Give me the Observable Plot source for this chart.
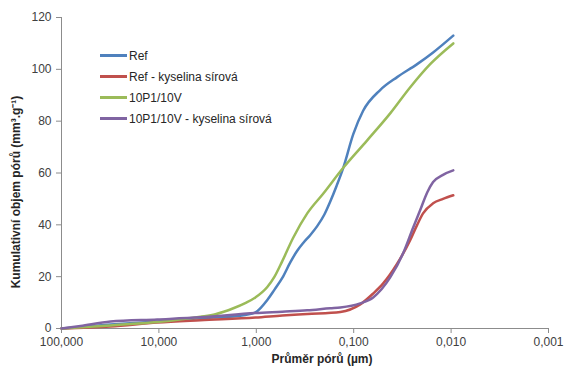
<!DOCTYPE html>
<html>
<head>
<meta charset="utf-8">
<script src="https://cdn.jsdelivr.net/npm/d3@7"></script>
<script src="https://cdn.jsdelivr.net/npm/@observablehq/plot@0.6"></script>
<style>
  body { margin: 0; background: #fff; }
  #chart { position: relative; width: 564px; height: 367px; font-family: "Liberation Sans", Arial, sans-serif; }
  #legend { position: absolute; left: 100px; top: 45px; font-size: 12px; color: #262626; }
  .row { display: flex; align-items: center; height: 21px; }
  .swatch { width: 27px; height: 3px; margin-right: 2px; }
</style>
</head>
<body>
<div id="chart"><div id="legend"></div></div>
<script>
// Cumulative pore volume (mm³/g) vs. pore diameter (µm), mercury porosimetry
const seriesNames = ["Ref", "Ref - kyselina sírová", "10P1/10V", "10P1/10V - kyselina sírová"];
const seriesColors = ["#4F81BD", "#C0504D", "#9BBB59", "#8064A2"];

const refDiameter = [100, 31.4, 10.4, 3.75, 1.72, 1.30, 1.02, 0.90, 0.771, 0.65, 0.541, 0.448, 0.38, 0.330, 0.28, 0.237, 0.20, 0.174, 0.15, 0.128, 0.101, 0.080, 0.0535, 0.0358, 0.0223, 0.0153, 0.0095];
const refVolume   = [0, 1.5, 2.7, 4.0, 4.6, 5.2, 6.2, 8.0, 11.0, 15.0, 19.5, 25.5, 30.0, 33.0, 36.0, 39.5, 44.0, 49.0, 55.0, 62.0, 75.0, 84.0, 92.0, 97.0, 102.0, 106.5, 113.0];

const refAcidDiameter = [100, 31.4, 10.4, 3.75, 1.02, 0.541, 0.30, 0.137, 0.0857, 0.0631, 0.0498, 0.0358, 0.0264, 0.0223, 0.0194, 0.0153, 0.0121, 0.0095];
const refAcidVolume   = [0, 0.8, 2.3, 3.2, 4.2, 5.0, 5.6, 6.4, 9.3, 13.5, 17.4, 25.0, 34.0, 40.0, 44.4, 48.3, 50.0, 51.4];

const mixDiameter = [100, 31.4, 10.4, 3.75, 2.63, 1.72, 1.30, 1.02, 0.771, 0.65, 0.541, 0.418, 0.300, 0.206, 0.128, 0.0727, 0.0422, 0.0264, 0.0164, 0.0095];
const mixVolume   = [0, 1.2, 2.5, 4.5, 5.5, 7.8, 9.8, 12.0, 16.0, 20.0, 26.0, 35.0, 44.4, 52.0, 62.0, 72.6, 83.0, 93.0, 102.0, 110.0];

const mixAcidDiameter = [100, 63.8, 31.4, 10.4, 3.75, 1.02, 0.541, 0.30, 0.174, 0.137, 0.0857, 0.0631, 0.0422, 0.0311, 0.0245, 0.0208, 0.0176, 0.0153, 0.0121, 0.0095];
const mixAcidVolume   = [0, 1.0, 2.7, 3.5, 4.3, 6.0, 6.5, 7.0, 7.8, 8.1, 9.7, 12.0, 19.7, 29.0, 39.0, 45.6, 52.5, 56.5, 59.3, 61.0];

const xTicks = [100, 10, 1, 0.1, 0.01, 0.001];
const yTicks = [0, 20, 40, 60, 80, 100, 120];

const seriesData = [
  [refDiameter, refVolume],
  [refAcidDiameter, refAcidVolume],
  [mixDiameter, mixVolume],
  [mixAcidDiameter, mixAcidVolume]
];

const rows = seriesData.flatMap(([ds, vs], i) =>
  ds.map((d, j) => ({series: seriesNames[i], diameter: d, volume: vs[j]}))
);

const commaFormat = d => d3.format(".3f")(d).replace(".", ",");
const axisColor = "#8c8c8c";
const textColor = "#404040";

const chart = Plot.plot({
  width: 564,
  height: 367,
  marginLeft: 61,
  marginRight: 16,
  marginTop: 17,
  marginBottom: 39,
  style: {fontFamily: "'Liberation Sans', Arial, sans-serif", fontSize: "12px", background: "#fff"},
  x: {type: "log", domain: [100, 0.001]},
  y: {domain: [0, 120]},
  color: {domain: seriesNames, range: seriesColors},
  marks: [
    Plot.axisX({ticks: xTicks, tickFormat: commaFormat, tickSize: 5, tickPadding: 4, stroke: axisColor, fill: textColor, label: null}),
    Plot.axisY({ticks: yTicks, tickSize: 5, tickPadding: 5, stroke: axisColor, fill: textColor, label: null}),
    Plot.ruleY([0], {stroke: axisColor}),
    Plot.ruleX([100], {stroke: axisColor}),
    // lines are ordered by decreasing diameter, i.e. increasing screen x
    Plot.line(rows, {x: "diameter", y: "volume", z: "series", stroke: "series", strokeWidth: 2.5, curve: "monotone-x"}),
    Plot.text(["Kumulativní objem pórů (mm³.g⁻¹)"], {frameAnchor: "left", textAnchor: "middle", lineAnchor: "middle", dx: -45, dy: 19, rotate: -90, fontWeight: "bold", fill: "#262626"}),
    Plot.text(["Průměr pórů (µm)"], {frameAnchor: "bottom", textAnchor: "middle", lineAnchor: "middle", dx: 17, dy: 31, fontWeight: "bold", fill: "#262626"})
  ]
});

const container = document.getElementById("chart");
container.insertBefore(chart, container.firstChild);

const legend = d3.select("#legend");
seriesNames.forEach((name, i) => {
  const row = legend.append("div").attr("class", "row");
  row.append("div").attr("class", "swatch").style("background", seriesColors[i]);
  row.append("span").text(name);
});
</script>
</body>
</html>
